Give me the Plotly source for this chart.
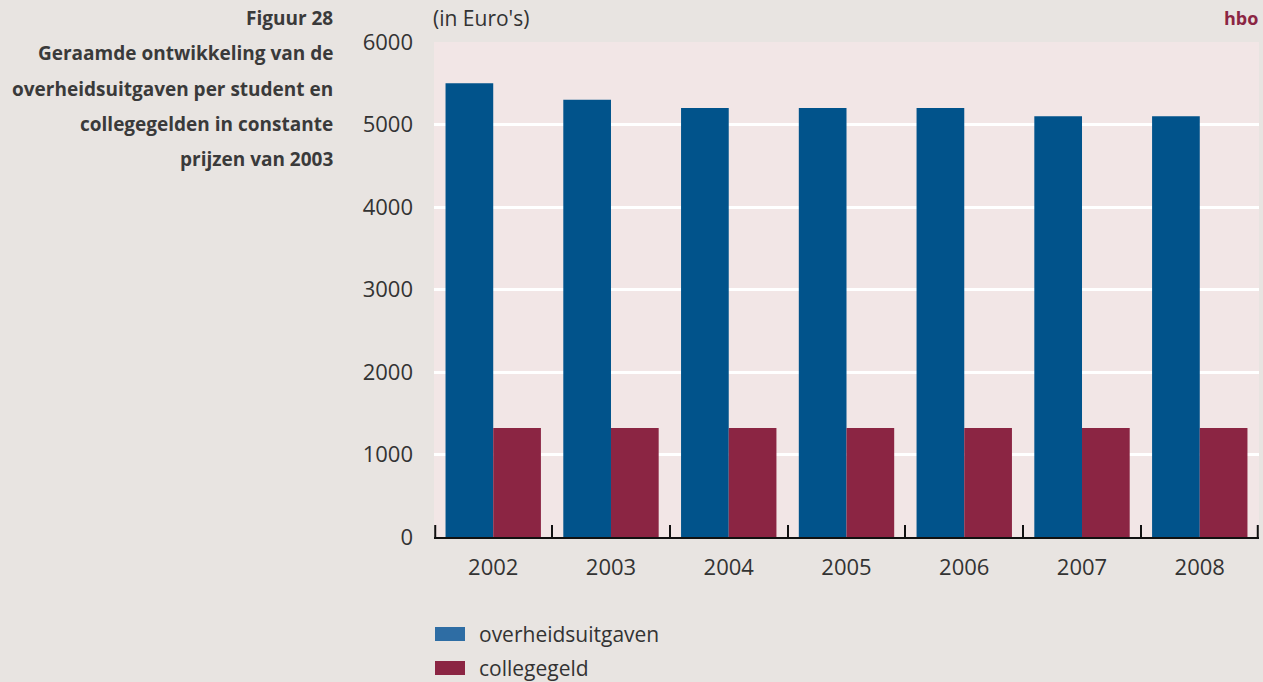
import plotly.graph_objects as go

years = ["2002", "2003", "2004", "2005", "2006", "2007", "2008"]
overheidsuitgaven = [5500, 5300, 5200, 5200, 5200, 5100, 5100]
collegegeld = [1320, 1320, 1320, 1320, 1320, 1320, 1320]
series_names = ["overheidsuitgaven", "collegegeld"]
title_lines = ["Figuur 28", "Geraamde ontwikkeling van de", "overheidsuitgaven per student en",
               "collegegelden in constante", "prijzen van 2003"]

BLUE = "#01538b"
RED = "#8b2543"
LEG_BLUE = "#2e6da4"
PAGE = "#e8e4e1"
PLOT = "#f2e6e6"
W, H = 1263, 682
L, R, T, B = 434, 4, 42, 145
PW, PH = W - L - R, H - T - B


def px(x):
    return (x - L) / PW


def py(y):
    return (H - B - y) / PH


fig = go.Figure()
fig.add_trace(go.Bar(x=years, y=overheidsuitgaven, name=series_names[0],
                     marker=dict(color=BLUE, line=dict(width=0))))
fig.add_trace(go.Bar(x=years, y=collegegeld, name=series_names[1],
                     marker=dict(color=RED, line=dict(width=0))))

font_reg = "Open Sans, Noto Sans, sans-serif"
ann = []
ys = [18, 53, 89, 124, 159]
for txt, yy in zip(title_lines, ys):
    ann.append(dict(text="<b>" + txt + "</b>", xref="paper", yref="paper", x=px(335), y=py(yy),
                    xanchor="right", yanchor="middle", showarrow=False,
                    font=dict(family=font_reg, size=19, color="#3a3a3a")))
ann.append(dict(text="(in Euro's)", xref="paper", yref="paper", x=px(431), y=py(18),
                xanchor="left", yanchor="middle", showarrow=False,
                font=dict(family=font_reg, size=21, color="#333333")))
ann.append(dict(text="<b>hbo</b>", xref="paper", yref="paper", x=px(1260), y=py(18),
                xanchor="right", yanchor="middle", showarrow=False,
                font=dict(family=font_reg, size=18, color=RED)))
# legend
shapes = []
leg = [(series_names[0], LEG_BLUE, 634), (series_names[1], RED, 668)]
for name, col, yc in leg:
    shapes.append(dict(type="rect", xref="paper", yref="paper", x0=px(435), x1=px(465),
                       y0=py(yc - 7), y1=py(yc + 7), fillcolor=col, line=dict(width=0)))
    ann.append(dict(text=name, xref="paper", yref="paper", x=px(477), y=py(yc),
                    xanchor="left", yanchor="middle", showarrow=False,
                    font=dict(family=font_reg, size=21, color="#333333")))
# edge tick marks at the outer category boundaries
for xe in (0.0015, 0.9985):
    shapes.append(dict(type="line", xref="paper", yref="paper", x0=xe, x1=xe,
                       y0=0, y1=12 / PH, line=dict(color="#111111", width=2)))

fig.update_layout(
    width=W, height=H,
    margin=dict(l=L, r=R, t=T, b=B, pad=0),
    paper_bgcolor=PAGE, plot_bgcolor=PLOT,
    barmode="group", bargap=0.19, bargroupgap=0,
    showlegend=False,
    annotations=ann, shapes=shapes,
    font=dict(family=font_reg, color="#333333"),
)
fig.update_xaxes(type="category", tickson="boundaries", ticks="inside", ticklen=12,
                 tickwidth=2, tickcolor="#111111", showline=True, linecolor="#111111",
                 linewidth=2, layer="below traces", showgrid=False,
                 range=[-0.503, 6.503],
                 tickfont=dict(size=22, color="#333333"), ticklabelstandoff=10)
fig.update_yaxes(range=[0, 6000], tickvals=[0, 1000, 2000, 3000, 4000, 5000, 6000],
                 showgrid=True, gridcolor="white", gridwidth=3, zeroline=False,
                 showline=False, ticks="", tickfont=dict(size=22, color="#333333"),
                 ticklabelstandoff=20)

fig.write_html("out.html", config={"displayModeBar": False}, post_script=(
    "document.body.style.margin='0';document.body.style.padding='0';"
    "document.body.style.overflow='hidden';"
    "document.body.style.background='#e8e4e1';"))
